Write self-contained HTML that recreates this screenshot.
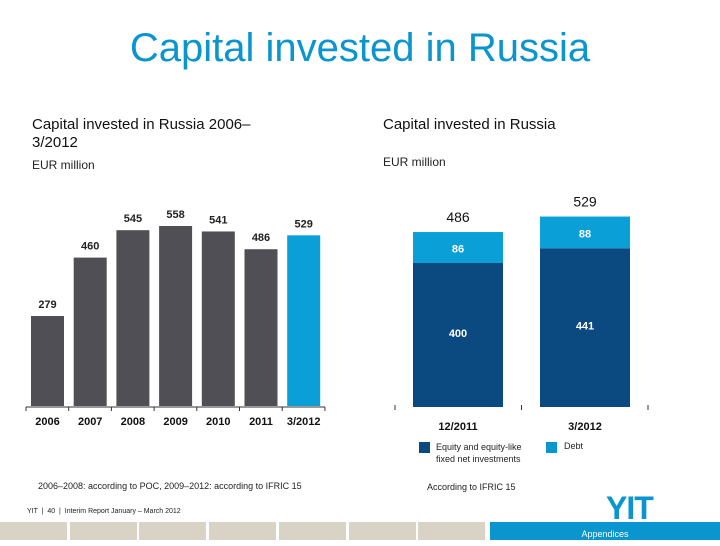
<!DOCTYPE html>
<html><head><meta charset="utf-8"><style>
body{margin:0;width:720px;height:540px;background:#fff;font-family:"Liberation Sans",sans-serif;position:relative;overflow:hidden}
.t{position:absolute;white-space:nowrap}
</style></head><body>
<div class="t" style="left:0;width:720px;text-align:center;top:26px;font-size:40px;color:#0a95cf">Capital invested in Russia</div>
<div class="t" style="left:32px;top:116px;font-size:15px;line-height:18px;color:#111">Capital invested in Russia 2006–<br>3/2012</div>
<div class="t" style="left:32px;top:158px;font-size:12px;color:#222">EUR million</div>
<div class="t" style="left:383px;top:116px;font-size:15px;color:#111">Capital invested in Russia</div>
<div class="t" style="left:383px;top:155px;font-size:12px;color:#222">EUR million</div>
<svg width="720" height="540" style="position:absolute;left:0;top:0">
<g id="left"></g><g id="right"></g>
</svg>
<div class="t" style="left:38px;top:481px;font-size:9px;color:#222">2006–2008: according to POC, 2009–2012: according to IFRIC 15</div>
<div class="t" style="left:427px;top:482px;font-size:9px;color:#222">According to IFRIC 15</div>
<div class="t" style="left:419px;top:441px;font-size:9px;line-height:12px;color:#222"><span style="position:absolute;left:0;top:1px;width:11px;height:11px;background:#0b4a80"></span><span style="margin-left:17px;display:inline-block">Equity and equity-like<br>fixed net investments</span></div>
<div class="t" style="left:546px;top:441px;font-size:9px;color:#222"><span style="position:absolute;left:0;top:1px;width:11px;height:11px;background:#0a95cf"></span><span style="margin-left:18px">Debt</span></div>
<div class="t" style="left:27px;top:508px;font-size:7px;color:#222">YIT &nbsp;| &nbsp;40 &nbsp;| &nbsp;Interim Report January – March 2012</div>
<div class="t" style="left:606px;top:490px;font-size:32px;font-weight:bold;color:#0a95cf;letter-spacing:-1px">YIT</div>
<div id="nav"></div>
<script>
const years=["2006","2007","2008","2009","2010","2011","3/2012"];
const totals=[279,460,545,558,541,486,529];
const periods=["12/2011","3/2012"];
const equity=[400,441];
const debt=[86,88];
const ns="http://www.w3.org/2000/svg";
function mk(tag,attrs,parent,txt){const e=document.createElementNS(ns,tag);for(const k in attrs)e.setAttribute(k,attrs[k]);if(txt!==undefined)e.textContent=txt;parent.appendChild(e);return e;}
const L=document.getElementById('left'),R=document.getElementById('right');
// left chart
const ly=v=>406-v*0.3226, lx=i=>31+i*42.7;
totals.forEach((v,i)=>{
 const r=mk('rect',{x:lx(i),y:ly(v),width:33,height:406-ly(v),fill:i==6?'#0a9fd6':'#4f4f55'},L);
 
 
 const t=mk('text',{x:lx(i)+16.5,y:ly(v)-8,'text-anchor':'middle','font-size':11,'font-weight':'bold',fill:'#222'},L,v);
 
 
 const x=mk('text',{x:lx(i)+16.5,y:425,'text-anchor':'middle','font-size':11,'font-weight':'bold',fill:'#111'},L,years[i]);
 
 
});
mk('line',{x1:26,x2:325,y1:407,y2:407,stroke:'#333'},L);
for(let i=0;i<=7;i++)mk('line',{x1:26+i*42.7,x2:26+i*42.7,y1:407,y2:411,stroke:'#333'},L);
// right chart
const ry=v=>407-v*0.36, rx=i=>413+i*127;
periods.forEach((p,i)=>{
 const e=mk('rect',{x:rx(i),y:ry(equity[i]),width:90,height:407-ry(equity[i]),fill:'#0b4a80'},R);
 
 
 const tot=equity[i]+debt[i];
 const d=mk('rect',{x:rx(i),y:ry(tot),width:90,height:ry(equity[i])-ry(tot),fill:'#0a9fd6'},R);
 
 
 mk('text',{x:rx(i)+45,y:(ry(equity[i])+407)/2+2,'text-anchor':'middle','font-size':11,'font-weight':'bold',fill:'#fff'},R,equity[i]);
 mk('text',{x:rx(i)+45,y:(ry(tot)+ry(equity[i]))/2+5,'text-anchor':'middle','font-size':11,'font-weight':'bold',fill:'#fff'},R,debt[i]);
 const tl=mk('text',{x:rx(i)+45,y:ry(tot)-10,'text-anchor':'middle','font-size':14,fill:'#111'},R,tot);
 
 
 mk('text',{x:rx(i)+45,y:430,'text-anchor':'middle','font-size':11,'font-weight':'bold',fill:'#111'},R,p);
});
for(let i=0;i<3;i++)mk('line',{x1:395+i*126.5,x2:395+i*126.5,y1:405,y2:410,stroke:'#333'},R);
// nav
const nav=document.getElementById('nav');
for(let i=0;i<7;i++){const b=document.createElement('div');b.style.cssText=`position:absolute;left:${i*69.7}px;top:522px;width:67px;height:18px;background:#d9d3c5`;


nav.appendChild(b);}
const a=document.createElement('div');a.style.cssText='position:absolute;left:490px;top:522px;width:230px;height:18px;background:#0a95cf;color:#fff;font-size:9px;text-align:center;line-height:24px';a.textContent='Appendices';


nav.appendChild(a);
</script>
</body></html>
